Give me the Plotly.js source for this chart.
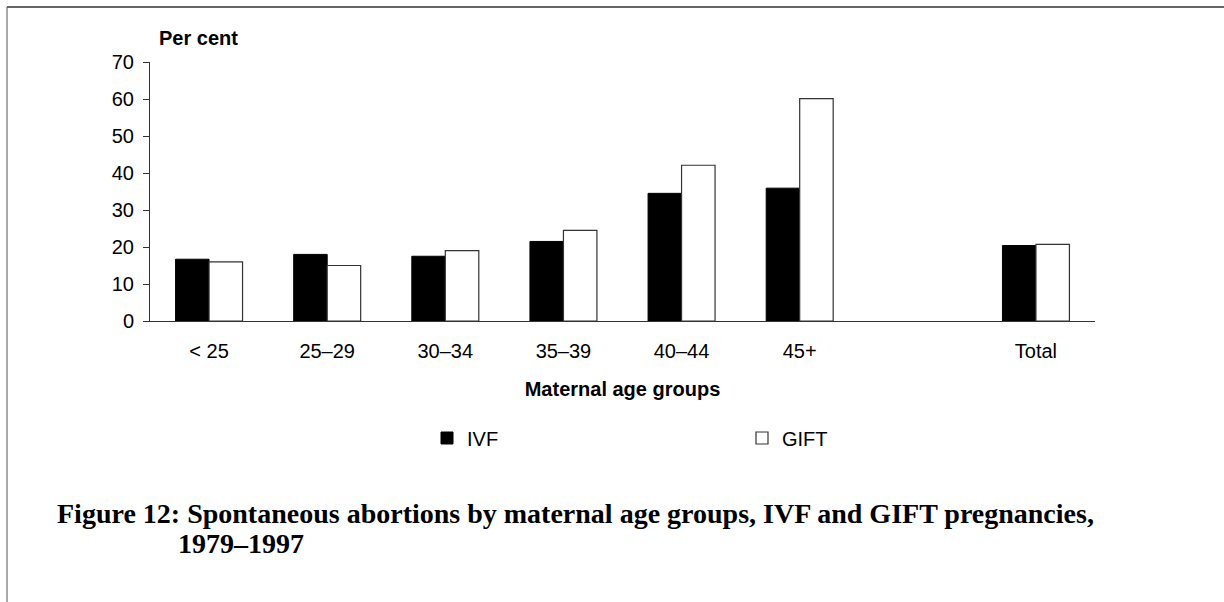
<!DOCTYPE html>
<html>
<head>
<meta charset="utf-8">
<script src="https://cdn.plot.ly/plotly-3.0.1.min.js"></script>
<style>html,body{margin:0;padding:0;background:#fff;}#chart{width:1224px;height:602px;}</style>
</head>
<body>
<div id="chart"></div>
<script>
// Data
const categories = ['< 25', '25–29', '30–34', '35–39', '40–44', '45+', ' ', 'Total'];
const ivfValues  = [16.7, 18.0, 17.5, 21.5, 34.5, 35.9, null, 20.4];
const giftValues = [16.0, 15.0, 19.0, 24.5, 42.1, 60.1, null, 20.7];
const yTicks = [0, 10, 20, 30, 40, 50, 60, 70];
const seriesNames = ['IVF', 'GIFT'];

const W = 1224, H = 602;
const M = {l: 150, r: 129, t: 62, b: 281};
const PW = W - M.l - M.r, PH = H - M.t - M.b;
const px = x => (x - M.l) / PW;          // pixel x -> paper x
const py = y => (H - M.b - y) / PH;      // pixel y -> paper y

const sans = 'Liberation Sans, Arial, sans-serif';
const serif = 'Liberation Serif, Times New Roman, serif';

const traces = [
  {
    type: 'bar', name: seriesNames[0], x: categories, y: ivfValues,
    marker: {color: '#000000', line: {color: '#000000', width: 1}},
    hoverinfo: 'x+y'
  },
  {
    type: 'bar', name: seriesNames[1], x: categories, y: giftValues,
    marker: {color: '#ffffff', line: {color: '#333333', width: 1.2}},
    hoverinfo: 'x+y'
  }
];

const layout = {
  width: W, height: H,
  margin: M,
  paper_bgcolor: '#ffffff', plot_bgcolor: '#ffffff',
  barmode: 'group', bargap: 0.433, bargroupgap: 0,
  font: {family: sans, size: 20, color: '#000'},
  xaxis: {
    type: 'category', categoryorder: 'array', categoryarray: categories,
    range: [-0.5, categories.length - 0.5],
    showline: true, linecolor: '#333', linewidth: 1,
    ticks: '', showgrid: false, zeroline: false,
    tickfont: {family: sans, size: 20, color: '#000'},
    ticklabelstandoff: 12,
    title: {text: '<b>Maternal age groups</b>', font: {family: sans, size: 20, color: '#000'}, standoff: 20}
  },
  yaxis: {
    range: [0, 70], tickvals: yTicks, ticktext: yTicks.map(String),
    showline: true, linecolor: '#333', linewidth: 1,
    ticks: 'outside', ticklen: 6, tickcolor: '#333', tickwidth: 1,
    showgrid: false, zeroline: false,
    tickfont: {family: sans, size: 20, color: '#000'},
    ticklabelstandoff: 5
  },
  showlegend: true,
  legend: {
    orientation: 'h', x: px(427), xanchor: 'left', y: py(438), yanchor: 'middle',
    font: {family: sans, size: 20, color: '#000'},
    entrywidth: 270, entrywidthmode: 'pixels',
    itemwidth: 30, bgcolor: 'rgba(0,0,0,0)', borderwidth: 0
  },
  annotations: [
    {xref: 'paper', yref: 'paper', x: px(157), y: py(38), xanchor: 'left', yanchor: 'middle',
     text: '<b>Per cent</b>', showarrow: false, font: {family: sans, size: 20, color: '#000'}},
    {xref: 'paper', yref: 'paper', x: px(55), y: py(513), xanchor: 'left', yanchor: 'middle',
     text: '<b>Figure 12: Spontaneous abortions by maternal age groups, IVF and GIFT pregnancies,</b>',
     showarrow: false, font: {family: serif, size: 28, color: '#000'}},
    {xref: 'paper', yref: 'paper', x: px(176), y: py(543), xanchor: 'left', yanchor: 'middle',
     text: '<b>1979–1997</b>',
     showarrow: false, font: {family: serif, size: 28, color: '#000'}}
  ],
  shapes: [
    {type: 'line', xref: 'paper', yref: 'paper', x0: px(7), x1: px(1224), y0: py(7), y1: py(7),
     line: {color: '#333', width: 1.5}},
    {type: 'line', xref: 'paper', yref: 'paper', x0: px(7), x1: px(7), y0: py(7), y1: py(602),
     line: {color: '#555', width: 1}}
  ]
};

Plotly.newPlot('chart', traces, layout, {displayModeBar: false, staticPlot: false});
</script>
</body>
</html>
